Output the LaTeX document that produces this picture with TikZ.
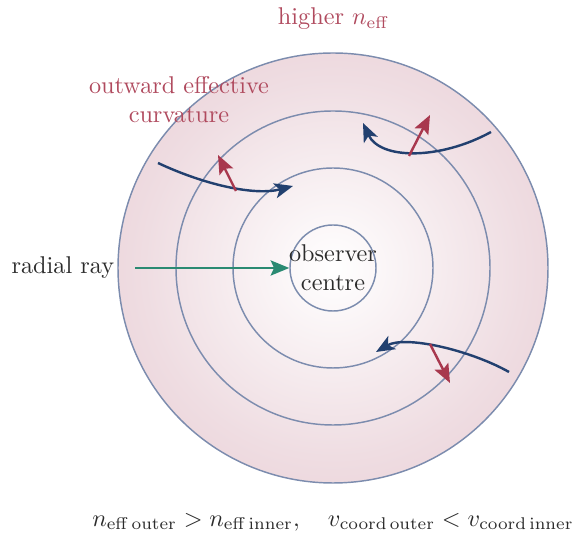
\documentclass[tikz,border=0pt]{standalone}
\usepackage{amsmath}
\usetikzlibrary{arrows.meta,positioning}
\definecolor{ring}{HTML}{7C8CAE}
\definecolor{rayblue}{HTML}{22406F}
\definecolor{normred}{HTML}{A8384E}
\definecolor{radgreen}{HTML}{2A8A72}
\definecolor{lblred}{HTML}{B04A5E}
\definecolor{ink}{HTML}{2B2B2B}
\definecolor{neffmid}{HTML}{EFDDE2}
\definecolor{neffedge}{HTML}{E2BCC5}
\pgfdeclareradialshading{neffshade}{\pgfpoint{0bp}{0bp}}%
  {color(0bp)=(white); color(22bp)=(neffmid); color(50bp)=(neffedge)}

\begin{document}
\begin{tikzpicture}[x=0.0145cm, y=-0.0145cm,
    ringline/.style={draw=ring, line width=0.6pt},
    raypath/.style={draw=rayblue, line width=1pt, -{Stealth[length=2.7mm, width=2.2mm, inset=0.7mm]}},
    normarrow/.style={draw=normred, line width=1pt, -{Stealth[length=2.7mm, width=2.2mm, inset=0.5mm]}},
    lbl/.style={text=lblred, align=center}]
  \useasboundingbox (0,0) rectangle (574,535);
  \coordinate (c) at (333,268);
  % index rings, darker outside
  \shade[shading=neffshade, ringline] (c) circle (215);
  \foreach \r in {157,100}
    \draw[ringline] (c) circle (\r);
  \node (obs) [circle, ringline, minimum size=1.247cm, inner sep=0pt] at (c) {};
  \node (obstext) [text=ink, align=center] at (c) {observer\\centre};

  % bent rays
  \coordinate (a1) at (158,163);  \coordinate (b1) at (293,186);
  \coordinate (a2) at (491,132);  \coordinate (b2) at (363,123);
  \coordinate (a3) at (509,372);  \coordinate (b3) at (376,352);
  \draw[raypath] (a1) .. controls (205,185) and (255,196) .. (b1);
  \draw[raypath] (a2) .. controls (440,160) and (380,160) .. (b2);
  \draw[raypath] (a3) .. controls (470,350) and (405,335) .. (b3);

  % curvature normals
  \coordinate (n1) at (236,191);  \coordinate (m1) at (218,155);
  \coordinate (n2) at (409,156);  \coordinate (m2) at (430,115);
  \coordinate (n3) at (430,344);  \coordinate (m3) at (450,383);
  \foreach \i in {1,2,3}
    \draw[normarrow] (n\i) -- (m\i);

  % straight radial ray
  \node (ray) [text=ink, anchor=east, inner sep=1pt] at (117,268) {radial ray};
  \coordinate (g0) at (135,268);
  \draw[draw=radgreen, line width=0.9pt, -{Stealth[length=2.7mm, width=2.2mm, inset=0.5mm]}] (g0) -- (obs.west);

  \node (hi) [lbl] at (333,19) {higher $n_{\text{eff}}$};
  \node (curv) [lbl] at (179,100) {outward effective\\curvature};
  \node (rel) [text=ink] at (333,522)
    {$n_{\mathrm{eff\,outer}} > n_{\mathrm{eff\,inner}},\quad v_{\mathrm{coord\,outer}} < v_{\mathrm{coord\,inner}}$};
\end{tikzpicture}
\end{document}
